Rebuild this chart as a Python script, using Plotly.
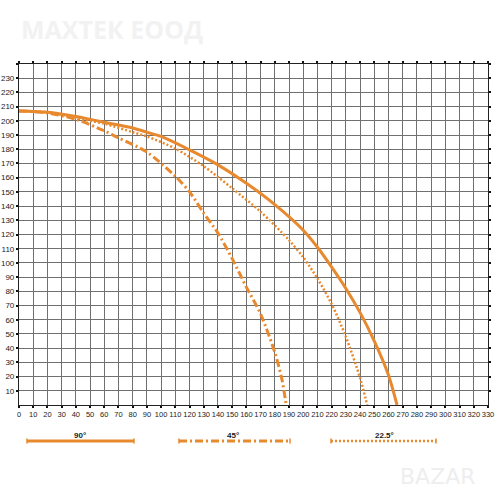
import plotly.graph_objects as go

# ---- data ----
x_90 = [0, 20, 40, 60, 80, 90, 100, 120, 140, 160, 180, 200, 210, 220, 230, 240, 250, 260, 266]
y_90 = [207, 206, 203, 199, 195, 192, 189, 179.5, 169, 156, 141, 123, 111, 97, 82, 65, 45, 21, 0]

x_45 = [0, 20, 40, 60, 70, 90, 110, 120, 130, 140, 150, 160, 170, 180, 185, 188]
y_45 = [207, 205.5, 201, 193, 188, 178, 161, 150, 135, 121, 103, 83, 64, 37, 18, 0]

x_225 = [0, 20, 40, 60, 80, 90, 110, 130, 150, 170, 190, 200, 210, 220, 230, 240, 245]
y_225 = [207, 206, 202, 198, 192, 189, 180.5, 168, 152.5, 136, 116, 104, 89, 71, 48, 19, 0]

x_ticks = list(range(0, 331, 10))
y_ticks = list(range(10, 231, 10))
legend_labels = ["90°", "45°", "22.5°"]

ORANGE = "#E8892E"
FONT = "Liberation Sans"

fig = go.Figure()
fig.add_trace(go.Scatter(x=x_90, y=y_90, mode="lines", line=dict(color=ORANGE, width=3, shape="spline", smoothing=0.8), showlegend=False))
fig.add_trace(go.Scatter(x=x_45, y=y_45, mode="lines", line=dict(color=ORANGE, width=3, dash="8px,3px,2px,3px", shape="spline", smoothing=0.8), showlegend=False))
fig.add_trace(go.Scatter(x=x_225, y=y_225, mode="lines", line=dict(color=ORANGE, width=2.5, dash="2px,2px", shape="spline", smoothing=0.8), showlegend=False))

L, R, T, B = 19, 12, 64, 95
W = 500 - L - R
H = 500 - T - B

def px(xp):
    return (xp - L) / W

def py(yp):
    return (500 - B - yp) / H

shapes = []
annotations = []
legend_spec = [(27, 134, 80, "solid", 3), (179, 290, 233, "8px,3px,2px,3px", 3), (331, 436, 384, "2px,2px", 2.5)]
for (x0, x1, xc, dash, w), lab in zip(legend_spec, legend_labels):
    shapes.append(dict(type="line", xref="paper", yref="paper", x0=px(x0), x1=px(x1), y0=py(441), y1=py(441),
                       line=dict(color=ORANGE, width=w, dash=dash)))
    for xe in (x0, x1):
        shapes.append(dict(type="line", xref="paper", yref="paper", x0=px(xe), x1=px(xe), y0=py(438.5), y1=py(443.5),
                           line=dict(color=ORANGE, width=1.5)))
    annotations.append(dict(text=f"<b>{lab}</b>", xref="paper", yref="paper", x=px(xc), y=py(435), showarrow=False,
                            font=dict(size=8, color="#222", family=FONT), xanchor="center", yanchor="middle"))

annotations.append(dict(text="<b>МАХТЕК ЕООД</b>", xref="paper", yref="paper", x=px(19), y=py(29), showarrow=False,
                        xanchor="left", yanchor="middle", font=dict(size=25, color="#f2f2f2", family="Open Sans")))
annotations.append(dict(text="BAZAR", xref="paper", yref="paper", x=px(438), y=py(476), showarrow=False,
                        xanchor="center", yanchor="middle", font=dict(size=22, color="#eeeeee", family="DejaVu Sans")))

axis_common = dict(showgrid=True, gridcolor="#707070", gridwidth=1, showline=True, linecolor="#222", linewidth=1.2,
                   mirror="ticks", ticks="outside", ticklen=2, tickwidth=2, tickcolor="#111", zeroline=False,
                   automargin=False, fixedrange=True)

fig.update_xaxes(range=[0, 330], tickvals=x_ticks, ticktext=[str(v) for v in x_ticks], tickangle=0,
                 tickfont=dict(size=7.5, color="#222", family=FONT), **axis_common)
fig.update_yaxes(range=[0, 240], tickvals=y_ticks + [240], ticktext=[str(v) for v in y_ticks] + [""],
                 tickfont=dict(size=8, color="#222", family=FONT), **axis_common)

fig.update_layout(width=500, height=500, margin=dict(l=L, r=R, t=T, b=B), plot_bgcolor="white", paper_bgcolor="white",
                  shapes=shapes, annotations=annotations, showlegend=False)

fig.write_html("out.html", config={"displayModeBar": False},
               post_script="document.body.style.margin='0';document.body.style.overflow='hidden';")
